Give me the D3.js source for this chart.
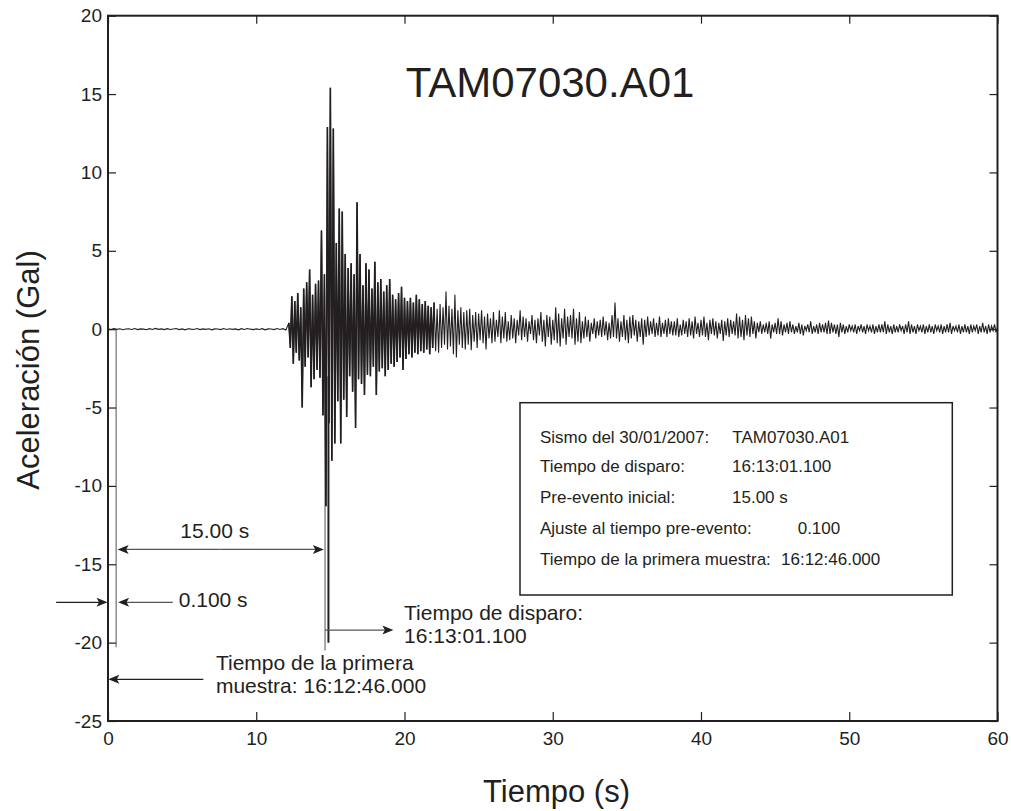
<!DOCTYPE html>
<html>
<head>
<meta charset="utf-8">
<script src="https://cdn.jsdelivr.net/npm/d3@7"></script>
<style>
  body { margin: 0; background: #fff; }
  svg { display: block; font-family: Arial, "Liberation Sans", Helvetica, sans-serif; }
  .axis text { font-size: 19px; fill: #231f20; }
  .axis line { stroke: #231f20; stroke-width: 1.2; }
  .axis path { display: none; }
</style>
</head>
<body>
<svg id="chart" width="1011" height="811"></svg>
<script>
// record name and axis ticks
const recordName = 'TAM07030.A01';
const xTicks = [0, 10, 20, 30, 40, 50, 60];
const yTicks = [-25, -20, -15, -10, -5, 0, 5, 10, 15, 20];

// pre-event noise, one sample every 0.2 s from 0 s (Gal)
const preEventDt = 0.2;
const preEvent = [
  0.02, -0.03, 0.04, -0.01, 0.03, -0.04, 0.01, 0.03, -0.02, 0.04,
  -0.03, 0.02, 0.00, -0.04, 0.03, -0.02, 0.05, -0.01, 0.02, -0.03,
  0.03, -0.02, 0.01, 0.04, -0.03, 0.02, -0.04, 0.03, 0.00, -0.02,
  0.04, -0.03, 0.02, -0.01, 0.03, -0.04, 0.02, 0.01, -0.03, 0.04,
  -0.02, 0.03, -0.01, 0.02, -0.04, 0.03, -0.02, 0.04, 0.00, -0.03,
  0.02, -0.02, 0.03, -0.04, 0.02, 0.01, -0.03, 0.04, -0.02, 0.03,
  -0.05
];

// strong motion, peaks read every 0.1 s from 12.2 s (Gal)
const motionStart = 12.2;
const motionDt = 0.1;
const motion = [
  0.4, -1.2, 2.1, -2.2, 1.8, -1.5, 2.3, -2.0, 1.4, -5.0,
  2.6, -2.4, 3.0, -1.8, 3.8, -3.7, 2.2, -3.2, 2.9, -2.6,
  3.1, -3.1, 6.3, -5.5, 3.5, -11.3, 12.9, -6.0, 15.4, -8.4,
  12.8, -7.3, 5.5, -4.6, 7.7, -7.3, 7.5, -4.5, 4.8, -5.6,
  3.9, -3.0, 4.2, -4.0, 3.5, -6.3, 8.1, -3.2, 4.8, -3.5,
  2.8, -4.2, 4.2, -2.9, 3.8, -3.0, 2.6, -2.4, 4.3, -4.2,
  3.0, -2.7, 3.2, -2.5, 2.4, -3.0, 2.8, -2.6, 3.2, -2.2,
  2.2, -2.4, 1.9, -2.1, 2.3, -1.8, 2.7, -2.6, 2.0, -1.9,
  1.8, -1.6, 2.0, -1.8, 1.7, -1.5, 2.2, -1.6, 1.9, -1.4,
  1.6, -1.5, 1.8, -1.3, 1.5, -1.6, 1.4, -1.2, 1.7, -1.4,
  1.3, -1.5, 1.6, -1.2, 1.4, -1.0, 2.4, -1.3, 1.5, -1.1,
  1.3, -1.6, 2.2, -1.8, 1.2, -1.0, 1.4, -1.2, 1.1, -1.3,
  1.2, -1.0, 1.3, -1.35, 0.9, -0.8, 1.1, -1.2, 1.0, -0.7,
  1.2, -0.9, 0.8, -1.3, 1.0, -0.6, 0.7, -0.9, 1.1, -0.8,
  0.6, -0.5, 1.2, -0.9, 0.8, -0.6, 1.1, -0.8, 0.5, -0.7,
  0.9, -0.6, 0.7, -0.9, 0.6, -0.4, 1.2, -0.7, 0.8, -0.5,
  0.7, -0.8, 0.5, -0.3, 0.9, -0.7, 0.6, -0.9, 0.7, -0.4,
  1.1, -0.8, 0.6, -1.1, 0.9, -0.5, 0.8, -1.0, 0.6, -0.7,
  1.4, -0.9, 1.0, -1.1, 0.7, -0.6, 1.3, -1.0, 0.8, -0.5,
  0.9, -0.6, 1.3, -1.0, 0.7, -0.8, 1.1, -0.9, 0.5, -0.6,
  0.8, -0.5, 0.6, -0.8, 0.4, -0.3, 0.7, -0.6, 0.5, -0.4,
  0.6, -0.5, 0.8, -0.4, 0.5, -0.7, 0.4, -0.6, 0.9, -0.5,
  1.7, -0.6, 0.7, -0.8, 0.5, -0.5, 0.9, -0.7, 0.6, -0.9,
  0.8, -0.6, 0.9, -0.4, 0.6, -0.8, 0.5, -0.5, 0.7, -1.0,
  0.6, -0.5, 0.8, -0.4, 0.5, -0.3, 0.7, -0.5, 0.4, -0.4,
  0.8, -0.5, 0.4, -0.3, 0.6, -0.5, 0.7, -0.3, 0.5, -0.4,
  0.5, -0.4, 0.7, -0.5, 0.3, -0.4, 0.6, -0.3, 0.5, -0.5,
  0.7, -0.4, 0.5, -0.6, 0.8, -0.3, 0.4, -0.5, 0.6, -0.4,
  0.8, -0.5, 0.4, -0.7, 0.6, -0.3, 0.7, -0.4, 0.5, -0.6,
  0.4, -0.3, 0.6, -0.75, 0.5, -0.4, 0.7, -0.5, 0.6, -0.3,
  0.5, -0.4, 1.0, -0.6, 0.8, -0.5, 0.6, -0.7, 0.9, -0.4,
  0.7, -0.5, 0.8, -0.3, 0.5, -0.6, 0.4, -0.2, 0.5, -0.3,
  0.3, -0.2, 0.4, -0.3, 0.5, -0.6, 0.3, -0.2, 0.4, -0.3,
  0.7, -0.3, 0.5, -0.4, 0.3, -0.2, 0.4, -0.3, 0.5, -0.2,
  0.3, -0.3, 0.2, -0.2, 0.4, -0.3, 0.3, -0.4, 0.2, -0.1,
  0.3, -0.2, 0.5, -0.3, 0.2, -0.2, 0.3, -0.3, 0.4, -0.2,
  0.3, -0.2, 0.4, -0.3, 0.55, -0.3, 0.4, -0.2, 0.3, -0.3,
  0.3, -0.5, 0.4, -0.2, 0.3, -0.3, 0.2, -0.2, 0.3, -0.1,
  0.2, -0.2, 0.3, -0.3, 0.2, -0.1, 0.3, -0.2, 0.2, -0.3,
  0.3, -0.1, 0.2, -0.2, 0.3, -0.3, 0.2, -0.2, 0.3, -0.2,
  0.3, -0.2, 0.5, -0.3, 0.3, -0.2, 0.2, -0.3, 0.3, -0.2,
  0.2, -0.2, 0.3, -0.1, 0.2, -0.3, 0.3, -0.2, 0.5, -0.3,
  0.3, -0.2, 0.2, -0.3, 0.3, -0.1, 0.2, -0.2, 0.3, -0.3,
  0.2, -0.2, 0.3, -0.2, 0.2, -0.3, 0.3, -0.1, 0.2, -0.2,
  0.3, -0.3, 0.2, -0.2, 0.3, -0.2, 0.4, -0.3, 0.2, -0.1,
  0.2, -0.2, 0.3, -0.3, 0.2, -0.2, 0.3, -0.2, 0.2, -0.3,
  0.3, -0.2, 0.2, -0.1, 0.3, -0.3, 0.2, -0.2, 0.4, -0.2,
  0.2, -0.3, 0.3, -0.2, 0.2, -0.1, 0.3, -0.2, 0.1
];

// info box rows: label and value
const infoLabels = ['Sismo del 30/01/2007:', 'Tiempo de disparo:', 'Pre-evento inicial:', 'Ajuste al tiempo pre-evento:', 'Tiempo de la primera muestra:'];
const infoValues = ['TAM07030.A01', '16:13:01.100', '15.00 s', '0.100', '16:12:46.000'];

const ink = '#231f20';
const svg = d3.select('#chart');

// scales
const x = d3.scaleLinear().domain([0, 60]).range([108, 997.5]);
const y = d3.scaleLinear().domain([-25, 20]).range([721, 15.7]);

// build the trace
const trace = preEvent.map((v, i) => ({ t: i * preEventDt, a: v }))
  .concat(motion.map((v, i) => ({ t: motionStart + i * motionDt, a: v })));

const line = d3.line()
  .x(d => x(d.t))
  .y(d => y(d.a));

// annotation guide lines (drawn under the trace)
svg.append('line')
  .attr('x1', x(0.55)).attr('x2', x(0.55))
  .attr('y1', y(0)).attr('y2', y(-20.3))
  .style('stroke', '#7a7a7a').style('stroke-width', 1.3);

svg.append('line')
  .attr('x1', x(14.64)).attr('x2', x(14.64))
  .attr('y1', y(0)).attr('y2', y(-20.5))
  .style('stroke', '#7a7a7a').style('stroke-width', 1.3);

svg.append('path')
  .datum(trace)
  .attr('d', line)
  .style('fill', 'none')
  .style('stroke', ink)
  .style('stroke-width', 1.1)
  .style('stroke-linejoin', 'miter');

// the strong phase is printed heavier in the original
svg.append('path')
  .datum(trace.filter(d => d.t >= 12.2 && d.t <= 22))
  .attr('d', line)
  .style('fill', 'none')
  .style('stroke', ink)
  .style('stroke-width', 1.6);

// trigger marker
svg.append('line')
  .attr('x1', x(14.87)).attr('x2', x(14.87))
  .attr('y1', y(-3)).attr('y2', y(-20.0))
  .style('stroke', ink).style('stroke-width', 2);

// axes, ticks pointing inward on all four sides
const plain = d => String(d);

svg.append('g')
  .attr('class', 'axis')
  .attr('transform', 'translate(' + x(0) + ',0)')
  .call(d3.axisLeft(y).tickValues(yTicks).tickFormat(plain).tickSizeInner(-8).tickSizeOuter(0).tickPadding(6));

svg.append('g')
  .attr('class', 'axis')
  .attr('transform', 'translate(0,' + y(-25) + ')')
  .call(d3.axisBottom(x).tickValues(xTicks).tickFormat(plain).tickSizeInner(-9).tickSizeOuter(0).tickPadding(11));

svg.append('g')
  .attr('class', 'axis')
  .attr('transform', 'translate(' + x(60) + ',0)')
  .call(d3.axisRight(y).tickValues(yTicks).tickSizeInner(-8).tickSizeOuter(0).tickFormat(''));

svg.append('g')
  .attr('class', 'axis')
  .attr('transform', 'translate(0,' + y(20) + ')')
  .call(d3.axisTop(x).tickValues(xTicks).tickSizeInner(-8).tickSizeOuter(0).tickFormat(''));

// frame
svg.append('rect')
  .attr('x', x(0)).attr('y', y(20))
  .attr('width', x(60) - x(0)).attr('height', y(-25) - y(20))
  .style('fill', 'none').style('stroke', ink).style('stroke-width', 2);

// title
svg.append('text')
  .attr('x', 550).attr('y', 96.5)
  .attr('text-anchor', 'middle')
  .style('font-size', '42px').style('fill', ink)
  .text(recordName);

// axis titles
svg.append('text')
  .attr('transform', 'translate(38.5,370) rotate(-90)')
  .attr('text-anchor', 'middle')
  .style('font-size', '31px').style('fill', ink)
  .text('Aceleración (Gal)');

svg.append('text')
  .attr('x', 556.5).attr('y', 801.5)
  .attr('text-anchor', 'middle')
  .style('font-size', '31px').style('fill', ink)
  .text('Tiempo (s)');

// arrow helper: shaft from t1 to the tip at t2, at height a
function arrow(t1, t2, a, stroke) {
  const px1 = x(t1), px2 = x(t2), py = y(a);
  const dir = px2 > px1 ? 1 : -1;
  svg.append('line')
    .attr('x1', px1).attr('x2', px2 - dir * 6)
    .attr('y1', py).attr('y2', py)
    .style('stroke', stroke || '#555').style('stroke-width', 1.2);
  svg.append('path')
    .attr('d', 'M' + px2 + ',' + py + 'L' + (px2 - dir * 11) + ',' + (py - 4.5) +
      'L' + (px2 - dir * 8.5) + ',' + py + 'L' + (px2 - dir * 11) + ',' + (py + 4.5) + 'Z')
    .style('fill', ink);
}

function note(t, a, str, anchor) {
  svg.append('text')
    .attr('x', x(t)).attr('y', y(a))
    .attr('text-anchor', anchor || 'start')
    .style('font-size', '21px').style('fill', ink)
    .text(str);
}

// 15.00 s pre-event span
arrow(7.6, 0.65, -14.05);
arrow(7.6, 14.56, -14.05);
note(7.2, -13.35, '15.00 s', 'middle');

// 0.100 s adjustment
arrow(-3.5, -0.03, -17.43, '#231f20');
arrow(4.37, 0.68, -17.43);
note(4.77, -17.75, '0.100 s');

// trigger time
arrow(14.64, 19.25, -19.2);
note(19.97, -18.56, 'Tiempo de disparo:');
note(19.97, -20.04, '16:13:01.100');

// first sample time
arrow(6.43, 0.02, -22.34, '#231f20');
note(7.28, -21.75, 'Tiempo de la primera');
note(7.28, -23.23, 'muestra: 16:12:46.000');

// info box
const boxLeft = 520, boxTop = 402.7, boxRight = 952.3, boxBottom = 595;
svg.append('rect')
  .attr('x', boxLeft).attr('y', boxTop)
  .attr('width', boxRight - boxLeft).attr('height', boxBottom - boxTop)
  .style('fill', '#fff').style('stroke', ink).style('stroke-width', 1.5);

const rowBaselines = [443.3, 471.7, 503.3, 534, 565];
const valueX = [732.3, 732, 732, 797.7, 781];

infoLabels.forEach((label, i) => {
  svg.append('text')
    .attr('x', 540).attr('y', rowBaselines[i])
    .style('font-size', '17px').style('fill', ink)
    .text(label);
  svg.append('text')
    .attr('x', valueX[i]).attr('y', rowBaselines[i])
    .style('font-size', '17px').style('fill', ink)
    .text(infoValues[i]);
});
</script>
</body>
</html>
